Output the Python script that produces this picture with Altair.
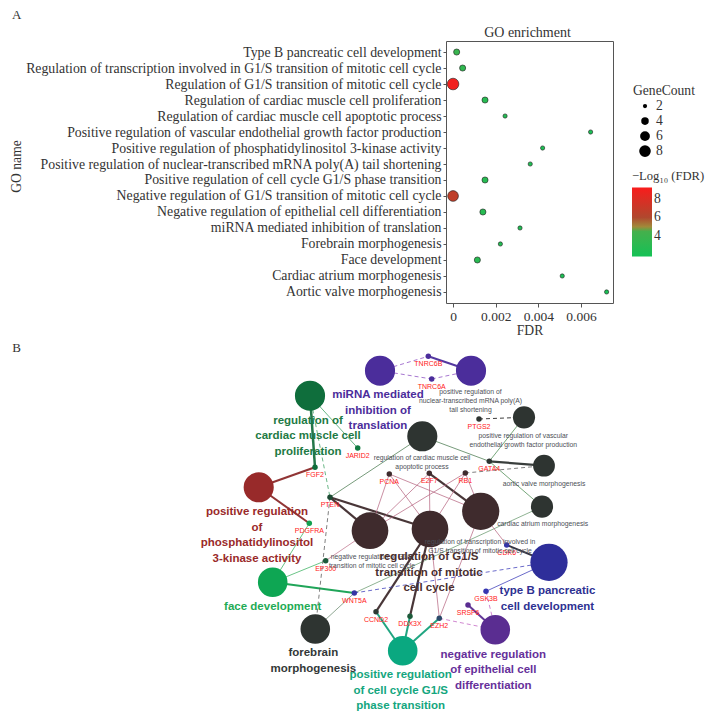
import altair as alt
import pandas as pd

# ---------------- Panel A : GO enrichment dot plot ----------------
go_terms = [
    "Type B pancreatic cell development",
    "Regulation of transcription involved in G1/S transition of mitotic cell cycle",
    "Regulation of G1/S transition of mitotic cell cycle",
    "Regulation of cardiac muscle cell proliferation",
    "Regulation of cardiac muscle cell apoptotic process",
    "Positive regulation of vascular endothelial growth factor production",
    "Positive regulation of phosphatidylinositol 3-kinase activity",
    "Positive regulation of nuclear-transcribed mRNA poly(A) tail shortening",
    "Positive regulation of cell cycle G1/S phase transition",
    "Negative regulation of G1/S transition of mitotic cell cycle",
    "Negative regulation of epithelial cell differentiation",
    "miRNA mediated inhibition of translation",
    "Forebrain morphogenesis",
    "Face development",
    "Cardiac atrium morphogenesis",
    "Aortic valve morphogenesis",
]
go_fdr = [0.00017, 0.00045, 1.3e-9, 0.0015, 0.00244, 0.00645, 0.0042, 0.00362,
          0.0015, 2.2e-7, 0.0014, 0.00314, 0.00222, 0.00114, 0.00512, 0.0072]
go_count = [3, 3, 8, 3, 2, 2, 2, 2, 3, 7, 3, 2, 2, 3, 2, 2]
fdr_ticks = [0, 0.002, 0.004, 0.006]
count_ticks = [2, 4, 6, 8]
nlog_ticks = [4, 6, 8]
panel_a_text = ["A", "GO enrichment"]

# ---------------- Panel B : GO network (node positions of the layout) ----------------
term_ids = ["miRNA", "polyA", "cardProlif", "cardApop", "vascular", "aortic", "atrium",
            "pi3k", "negG1S", "regG1S", "regTrans", "typeB", "negEpi", "posG1S", "face", "forebrain"]
term_x = [380, 471, 310, 422.3, 524, 544, 542, 258.7, 370, 430, 480.7, 549, 495.3, 402.7, 272.7, 315.3]
term_y = [371.7, 371.7, 396.7, 437.3, 418.3, 466.7, 507.7, 488.3, 531.7, 530, 512.3, 563.3, 630.7, 651.7, 583.3, 630]
term_r = [17, 17, 17, 17, 12.5, 12.3, 12.5, 17, 20.7, 20.7, 21, 21, 16.7, 16.7, 16.7, 16.7]
term_col = ["#4b2d9b", "#4b2d9b", "#0f6e3c", "#2e3431", "#2e3431", "#2e3431", "#2e3431",
            "#982a2a", "#3f2b2d", "#3f2b2d", "#3f2b2d", "#2e2e9a", "#5a2d91", "#0aa880", "#0ea653", "#2e3431"]

gene_ids = ["TNRC6B", "TNRC6A", "JARID2", "FGF2", "PTEN", "PCNA", "E2F7", "RB1", "PTGS2", "GATA4",
            "PDGFRA", "EP300", "WNT5A", "CCND2", "DDX3X", "EZH2", "CDK6", "GSK3B", "SRSF6"]
gene_x = [428.3, 431.7, 357.7, 315, 330, 389.3, 429.3, 465.3, 479, 489.3,
          309.3, 325.7, 354.3, 376, 410, 439.3, 506.7, 486, 468]
gene_y = [357.3, 380, 449, 468.3, 498.3, 475, 474.3, 474, 420, 462.3,
          524.3, 561.7, 594, 612.7, 617.3, 619.3, 546, 592.3, 606]
gene_col = ["#4b2d9b", "#4b2d9b", "#0f7a40", "#0f6e3c", "#1d4a33", "#3f2b2d", "#3f2b2d", "#3f2b2d",
            "#2e3431", "#2e3431", "#12a050", "#1d5a3a", "#3535a5", "#2e3a33", "#1d5a3a", "#2d4a6a",
            "#3535a8", "#3535b0", "#5a2d91"]

edge_src = ["miRNA", "miRNA", "TNRC6B", "TNRC6A", "cardProlif", "cardProlif", "cardProlif",
            "FGF2", "pi3k", "PDGFRA", "PTEN", "PTEN", "PTEN", "PTEN", "EP300", "EP300",
            "face", "WNT5A", "WNT5A", "WNT5A",
            "PCNA", "PCNA", "PCNA", "E2F7", "E2F7", "E2F7", "RB1", "RB1", "RB1", "RB1",
            "GATA4", "GATA4", "GATA4", "GATA4", "PTGS2",
            "CDK6", "CDK6", "GSK3B", "GSK3B", "SRSF6",
            "EZH2", "EZH2", "EZH2", "EZH2", "DDX3X", "DDX3X", "CCND2", "CCND2"]
edge_dst = ["TNRC6B", "TNRC6A", "polyA", "polyA", "FGF2", "JARID2", "PTEN",
            "pi3k", "PDGFRA", "face", "cardApop", "negG1S", "regG1S", "forebrain", "face", "negG1S",
            "WNT5A", "forebrain", "typeB", "atrium",
            "negG1S", "regG1S", "regTrans", "negG1S", "regG1S", "regTrans", "negG1S", "regG1S", "regTrans", "aortic",
            "cardApop", "vascular", "aortic", "atrium", "vascular",
            "typeB", "regTrans", "typeB", "negEpi", "negEpi",
            "negEpi", "posG1S", "regG1S", "regTrans", "posG1S", "regG1S", "posG1S", "regG1S"]
edge_col = ["#8a4ac0", "#8a4ac0", "#4b2d9b", "#8a4ac0", "#17703f", "#3aa060", "#3aa060",
            "#8b2a2a", "#8b2a2a", "#3ab060", "#4a7a50", "#3f2b2d", "#3f2b2d", "#555555", "#3ab060", "#c07890",
            "#14a050", "#6a8a70", "#3a3ab8", "#6a9a70",
            "#b86a85", "#b86a85", "#b86a85", "#b86a85", "#b86a85", "#3f2b2d", "#b86a85", "#b86a85", "#b86a85", "#555555",
            "#4a7a50", "#4a8a50", "#2e3431", "#4a8a50", "#333333",
            "#2a2a3a", "#b86a85", "#3a3ab8", "#c060c0", "#5a2d91",
            "#c060c0", "#14a07a", "#b86a85", "#b86a85", "#14a07a", "#3f2b2d", "#14a07a", "#3f2b2d"]
edge_w = [0.8, 0.8, 2, 0.8, 2.5, 0.8, 0.8,
          2.2, 2, 0.8, 0.8, 2.2, 2.2, 0.8, 0.8, 0.8,
          2, 0.8, 0.8, 0.8,
          0.8, 0.8, 0.8, 0.8, 0.8, 2.2, 0.8, 0.8, 0.8, 0.8,
          0.8, 0.8, 2.2, 0.8, 1,
          2, 0.8, 0.8, 0.8, 2,
          0.8, 2, 0.8, 0.8, 2, 2.2, 2, 2.2]
edge_dash = [1, 1, 0, 1, 0, 0, 1,
             0, 0, 0, 0, 0, 0, 1, 0, 0,
             0, 0, 1, 0,
             0, 0, 0, 0, 0, 0, 0, 0, 0, 1,
             0, 0, 0, 0, 1,
             0, 0, 0, 1, 0,
             1, 0, 0, 0, 0, 0, 0, 0]

# multi-line labels: x = centre, y = first line
bold_text = ["regulation of\ncardiac muscle cell\nproliferation", "miRNA mediated\ninhibition of\ntranslation",
             "positive regulation\nof\nphosphatidylinositol\n3-kinase activity",
             "regulation of G1/S\ntransition of mitotic\ncell cycle", "type B pancreatic\ncell development",
             "negative regulation\nof epithelial cell\ndifferentiation",
             "positive regulation\nof cell cycle G1/S\nphase transition", "face development",
             "forebrain\nmorphogenesis"]
bold_x = [308, 378, 257, 429, 547.5, 493.3, 400.7, 272.7, 313.3]
bold_y = [421.7, 396, 513.3, 558.3, 592.3, 655.7, 676, 608.3, 654.3]
bold_col = ["#1e7a44", "#4b2d9b", "#9a2a2a", "#4a2f30", "#2e3192", "#66309a", "#14a67e", "#1fab55", "#333838"]

small_text = ["positive regulation of\nnuclear-transcribed mRNA poly(A)\ntail shortening",
              "regulation of cardiac muscle cell\napoptotic process",
              "positive regulation of vascular\nendothelial growth factor production",
              "aortic valve morphogenesis", "cardiac atrium morphogenesis",
              "negative regulation of G1/S\ntransition of mitotic cell cycle",
              "regulation of transcription involved in\nG1/S transition of mitotic cell cycle"]
small_x = [470.5, 422, 523.3, 544, 542.7, 372, 480]
small_y = [393, 459.3, 436.7, 485, 525, 557.7, 542.7]

panel_b_label = ["B"]
panel_b_x = [16.5]
panel_b_y = [349]

SERIF = "Liberation Serif"
SANS = "Liberation Sans"
TXT = "#333333"
P0 = 446      # page x of the dot-plot frame; both panels share this origin
PR = 708      # page x of right edge used by the network panel
PW, PH = 167, 262

# ---------------- build panel A ----------------
df_go = pd.DataFrame({"term": go_terms, "FDR": go_fdr, "count": go_count})

dots = alt.Chart(df_go).transform_calculate(
    nlog="-log(datum.FDR)/LN10"
).mark_circle(opacity=1, stroke="#1b1b1b", strokeWidth=0.6).encode(
    x=alt.X("FDR:Q",
            scale=alt.Scale(domain=[-0.00033, 0.0075], nice=False, zero=False),
            axis=alt.Axis(values=fdr_ticks, format="~g", title="FDR", grid=False, domain=False,
                          tickColor="#555", tickSize=4, labelPadding=2, titlePadding=1,
                          labelFont=SERIF, labelFontSize=13.5, labelColor=TXT,
                          titleFont=SERIF, titleFontSize=13.6, titleFontWeight="normal", titleColor=TXT)),
    y=alt.Y("term:N", sort=go_terms,
            scale=alt.Scale(type="point", padding=0.69),
            axis=alt.Axis(title="GO name", grid=False, domain=False, tickColor="#555", tickSize=3,
                          labelPadding=2, labelLimit=600,
                          titleX=-(P0 - 16), titleY=125, titleBaseline="middle", titleAngle=270,
                          labelFont=SERIF, labelFontSize=13.8, labelColor=TXT,
                          titleFont=SERIF, titleFontSize=13.6, titleFontWeight="normal", titleColor=TXT)),
    size=alt.Size("count:Q", scale=alt.Scale(domain=[2, 8], range=[18, 135]),
                  legend=alt.Legend(title="GeneCount", values=count_ticks, orient="none",
                                    legendX=187, legendY=43, symbolType="circle", symbolOffset=5,
                                    symbolFillColor="black", symbolStrokeColor="black", symbolOpacity=1,
                                    rowPadding=0, clipHeight=13,
                                    labelFont=SERIF, labelFontSize=13.6, labelColor=TXT,
                                    titleFont=SERIF, titleFontSize=13.6, titleFontWeight="normal",
                                    titleColor=TXT, titlePadding=2)),
    color=alt.Color("nlog:Q",
                    scale=alt.Scale(domain=[1.8, 4.5, 5.0, 6.0, 9.2],
                                    range=["#14c256", "#45b04c", "#a08a3a", "#b0482e", "#f81c1c"],
                                    interpolate="rgb"),
                    legend=alt.Legend(title="\u2212Log\u2081\u2080 (FDR)", values=nlog_ticks, orient="none",
                                      legendX=186, legendY=129, gradientLength=69, gradientThickness=20,
                                      labelFont=SERIF, labelFontSize=13.6, labelColor=TXT,
                                      titleFont=SERIF, titleFontSize=12.6, titleFontWeight="normal",
                                      titleColor=TXT)),
)

# panel letter and panel title, placed in pixels relative to the frame
a_letter = alt.Chart(pd.DataFrame({"t": [panel_a_text[0]]})).mark_text(
    font=SERIF, fontSize=13, color=TXT, baseline="middle").encode(
    x=alt.value(-(P0 - 16.7)), y=alt.value(-26), text="t:N")
a_title = alt.Chart(pd.DataFrame({"t": [panel_a_text[1]]})).mark_text(
    font=SERIF, fontSize=14, color=TXT, baseline="middle").encode(
    x=alt.value(PW / 2 - 2), y=alt.value(-8), text="t:N")

top = alt.layer(dots, a_letter, a_title).properties(
    width=PW, height=PH,
    view=alt.ViewBackground(stroke="#555555", strokeWidth=1),
)

# ---------------- build panel B ----------------
pos = {}
for i, t in enumerate(term_ids):
    pos[t] = (term_x[i], term_y[i])
for i, g in enumerate(gene_ids):
    pos[g] = (gene_x[i], gene_y[i])

df_edges = pd.DataFrame({"src": edge_src, "dst": edge_dst, "col": edge_col, "w": edge_w, "dash": edge_dash})
df_edges["x"] = [pos[s][0] for s in edge_src]
df_edges["y"] = [pos[s][1] for s in edge_src]
df_edges["x2"] = [pos[d][0] for d in edge_dst]
df_edges["y2"] = [pos[d][1] for d in edge_dst]

df_terms = pd.DataFrame({"id": term_ids, "x": term_x, "y": term_y, "r": term_r, "col": term_col})
df_genes = pd.DataFrame({"id": gene_ids, "x": gene_x, "y": gene_y, "col": gene_col})
df_bold = pd.DataFrame({"label": bold_text, "x": bold_x, "y": bold_y, "col": bold_col})
df_small = pd.DataFrame({"label": small_text, "x": small_x, "y": small_y})
df_b = pd.DataFrame({"label": panel_b_label, "x": panel_b_x, "y": panel_b_y})

YTOP, YBOT = 340, 712
X = alt.X("x:Q", scale=alt.Scale(domain=[P0, PR], nice=False, zero=False), axis=None)
Y = alt.Y("y:Q", scale=alt.Scale(domain=[YTOP, YBOT], nice=False, zero=False, reverse=True), axis=None)

solid = alt.Chart(df_edges).transform_filter("datum.dash == 0").mark_rule(opacity=0.95).encode(
    x=X, y=Y, x2="x2:Q", y2="y2:Q",
    color=alt.Color("col:N", scale=None), strokeWidth=alt.StrokeWidth("w:Q", scale=None))
dashed = alt.Chart(df_edges).transform_filter("datum.dash == 1").mark_rule(
    opacity=0.95, strokeDash=[4, 3]).encode(
    x=X, y=Y, x2="x2:Q", y2="y2:Q",
    color=alt.Color("col:N", scale=None), strokeWidth=alt.StrokeWidth("w:Q", scale=None))
term_nodes = alt.Chart(df_terms).transform_calculate(area="PI*datum.r*datum.r").mark_circle(opacity=1).encode(
    x=X, y=Y, size=alt.Size("area:Q", scale=None), color=alt.Color("col:N", scale=None))
gene_nodes = alt.Chart(df_genes).mark_circle(opacity=1, size=30).encode(
    x=X, y=Y, color=alt.Color("col:N", scale=None))
gene_labels = alt.Chart(df_genes).mark_text(font=SANS, fontSize=7, color="#ff2020", dy=8).encode(
    x=X, y=Y, text="id:N")
small_labels = alt.Chart(df_small).mark_text(font=SANS, fontSize=6.8, color="#4d4f57",
                                             lineBreak="\n", lineHeight=9).encode(
    x=X, y=Y, text="label:N")
bold_labels = alt.Chart(df_bold).mark_text(font=SANS, fontSize=11.5, fontWeight="bold",
                                           lineBreak="\n", lineHeight=15.5).encode(
    x=X, y=Y, text="label:N", color=alt.Color("col:N", scale=None))
b_label = alt.Chart(df_b).mark_text(font=SERIF, fontSize=13, color=TXT).encode(
    x=X, y=Y, text="label:N")

bottom = alt.layer(solid, dashed, term_nodes, gene_nodes, gene_labels, small_labels, bold_labels, b_label).properties(
    width=PR - P0, height=YBOT - YTOP,
    view=alt.ViewBackground(stroke="transparent", strokeWidth=0),
)

chart = alt.vconcat(top, bottom, spacing=1).properties(
    padding={"left": 0, "top": 0, "right": 0, "bottom": 0},
).configure(background="white")

chart.save("out.html", embed_options={"renderer": "svg", "actions": False})
